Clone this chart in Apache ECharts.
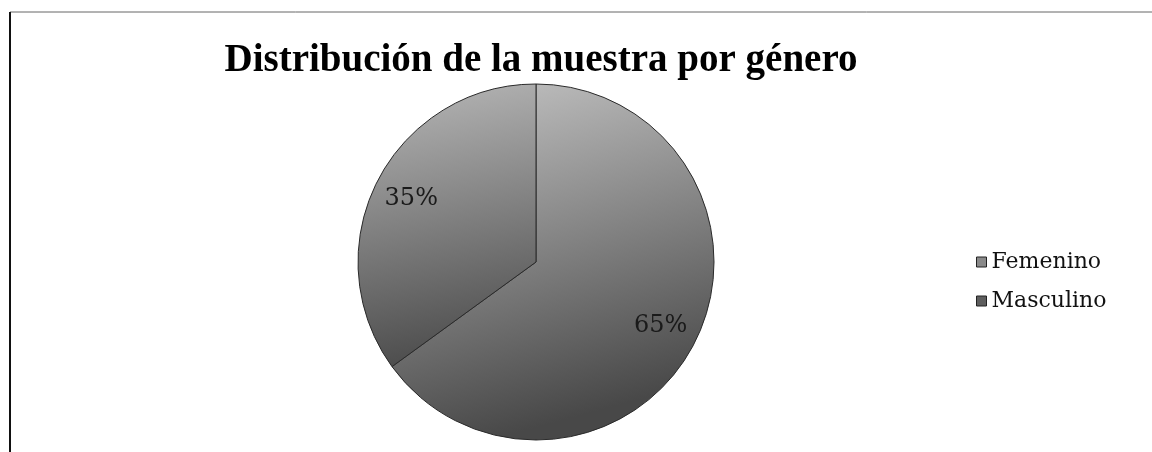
<!DOCTYPE html>
<html>
<head>
<meta charset="utf-8">
<script src="https://cdn.jsdelivr.net/npm/echarts@6/dist/echarts.min.js"></script>
<style>
  html, body { margin: 0; padding: 0; background: #fff; }
  #chart { width: 1152px; height: 452px; }
</style>
</head>
<body>
<div id="chart"></div>
<script>
// Sample distribution by gender
const titleText = 'Distribución de la muestra por género';
const categories = ['Femenino', 'Masculino'];
const percentages = [65, 35];

const titleFont = '"Liberation Serif", serif';
const bodyFont = '"DejaVu Serif", "Liberation Serif", serif';

function shade(top, bottom) {
  return {
    type: 'linear', x: 0, y: 0, x2: 0.3, y2: 1,
    colorStops: [
      { offset: 0, color: top },
      { offset: 1, color: bottom }
    ]
  };
}

const sliceFills = [shade('#c6c6c6', '#484848'), shade('#b8b8b8', '#4c4c4c')];
const legendFills = ['#8a8a8a', '#5e5e5e'];

const pieData = categories.map((name, i) => ({
  name: name,
  value: percentages[i],
  itemStyle: { color: sliceFills[i] }
}));

const chart = echarts.init(document.getElementById('chart'), null, { renderer: 'canvas' });

chart.setOption({
  backgroundColor: '#ffffff',
  animation: false,
  title: {
    text: titleText,
    left: 536,
    top: 36,
    textAlign: 'center',
    textStyle: { fontFamily: titleFont, fontWeight: 'bold', fontSize: 39, color: '#000' }
  },
  legend: {
    orient: 'vertical',
    left: 971,
    top: 246,
    itemWidth: 10,
    itemHeight: 10,
    itemGap: 17,
    icon: 'rect',
    data: categories.map((name, i) => ({ name: name, itemStyle: { color: legendFills[i], borderColor: '#222', borderWidth: 1 } })),
    textStyle: { fontFamily: bodyFont, fontSize: 22, color: '#111' }
  },
  graphic: [
    { type: 'line', shape: { x1: 10, y1: 12, x2: 1152, y2: 12 }, style: { stroke: '#666', lineWidth: 1 } },
    { type: 'line', shape: { x1: 10, y1: 12, x2: 10, y2: 452 }, style: { stroke: '#111', lineWidth: 2 } }
  ],
  series: [
    {
      type: 'pie',
      center: [536, 262],
      radius: [0, 178],
      startAngle: 90,
      clockwise: true,
      silent: true,
      label: { show: false },
      labelLine: { show: false },
      itemStyle: { borderColor: '#2a2a2a', borderWidth: 1 },
      data: pieData
    },
    {
      // transparent twin ring that places the percentage labels at ~3/4 radius
      type: 'pie',
      center: [536, 262],
      radius: [0, 274],
      startAngle: 90,
      clockwise: true,
      silent: true,
      z: 5,
      itemStyle: { color: 'rgba(0,0,0,0)' },
      label: {
        show: true,
        position: 'inside',
        formatter: '{c}%',
        fontFamily: bodyFont,
        fontSize: 24,
        color: '#1a1a1a'
      },
      labelLine: { show: false },
      data: categories.map((name, i) => ({ name: name, value: percentages[i] }))
    }
  ]
});
</script>
</body>
</html>
